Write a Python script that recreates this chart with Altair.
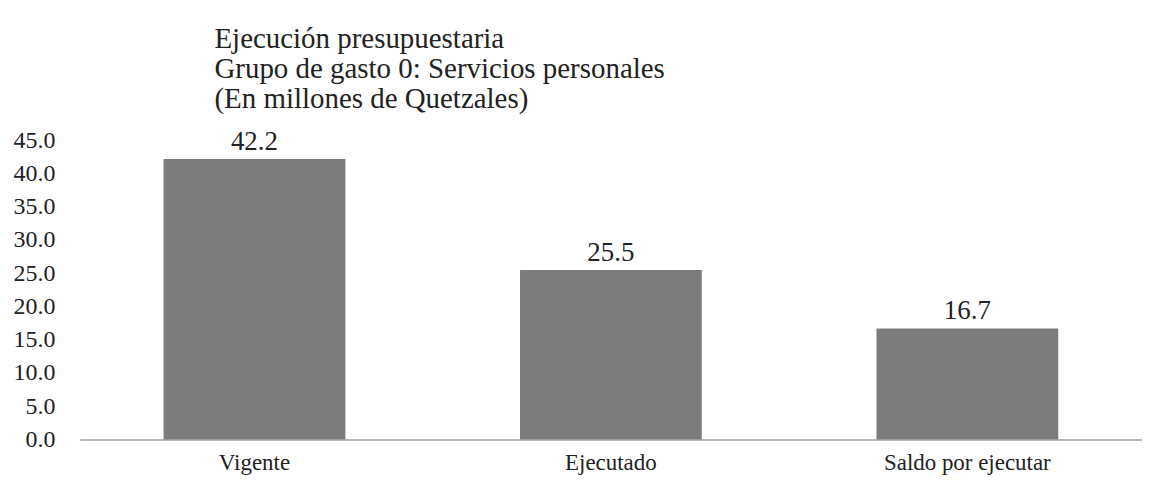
import altair as alt
import pandas as pd

categories = ["Vigente", "Ejecutado", "Saldo por ejecutar"]
values = [42.2, 25.5, 16.7]
title_lines = [
    "Ejecución presupuestaria",
    "Grupo de gasto 0: Servicios personales",
    "(En millones de Quetzales)",
]

df = pd.DataFrame({"cat": categories, "val": values})
FONT = "'Liberation Serif', 'Times New Roman', serif"

base = alt.Chart(df).encode(
    x=alt.X("cat:N", sort=categories, title=None,
            scale=alt.Scale(paddingInner=0.49, paddingOuter=0.235),
            axis=alt.Axis(labelAngle=0, ticks=False, domainColor="#a0a0a0",
                          domainWidth=1.5, labelFont=FONT, labelFontSize=23,
                          labelColor="#222222", labelPadding=12)),
    y=alt.Y("val:Q", title=None,
            scale=alt.Scale(domain=[0, 45]),
            axis=alt.Axis(values=[0, 5, 10, 15, 20, 25, 30, 35, 40, 45],
                          format=".1f", domain=False, ticks=False, grid=False,
                          labelFont=FONT, labelFontSize=24, labelColor="#222222",
                          labelPadding=25, labelAlign="right")),
)

bars = base.mark_bar(color="#7c7c7c")
labels = base.mark_text(baseline="bottom", dy=-3, font=FONT, fontSize=27,
                        color="#222222").encode(text=alt.Text("val:Q", format=".1f"))

chart = (bars + labels).properties(
    width=1065, height=300,
    padding={"left": 5, "top": 16, "right": 0, "bottom": 0},
    title=alt.TitleParams(text=title_lines, anchor="start", dx=202, font=FONT,
                          fontSize=29, fontWeight="normal", color="#222222",
                          lineHeight=30, offset=14),
).configure(background="white").configure_view(strokeWidth=0)

chart.save("out.html", embed_options={"renderer": "svg", "actions": False})
